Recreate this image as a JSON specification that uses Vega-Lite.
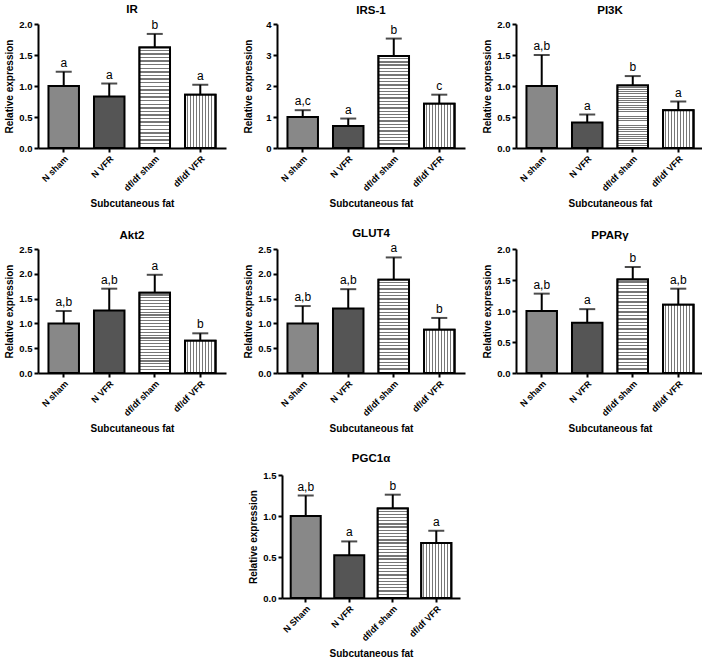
{
  "$schema": "https://vega.github.io/schema/vega-lite/v6.json",
  "padding": {"left": 4, "top": 4, "right": 0, "bottom": 0},
  "data": {"values": [
    {"gene": "IR", "label": "N sham", "mean": 1.0, "upper": 1.23, "sig": "a"},
    {"gene": "IR", "label": "N VFR", "mean": 0.83, "upper": 1.04, "sig": "a"},
    {"gene": "IR", "label": "df/df sham", "mean": 1.62, "upper": 1.84, "sig": "b"},
    {"gene": "IR", "label": "df/df VFR", "mean": 0.86, "upper": 1.02, "sig": "a"},
    {"gene": "IRS-1", "label": "N sham", "mean": 1.0, "upper": 1.22, "sig": "a,c"},
    {"gene": "IRS-1", "label": "N VFR", "mean": 0.71, "upper": 0.95, "sig": "a"},
    {"gene": "IRS-1", "label": "df/df sham", "mean": 2.97, "upper": 3.53, "sig": "b"},
    {"gene": "IRS-1", "label": "df/df VFR", "mean": 1.43, "upper": 1.72, "sig": "c"},
    {"gene": "PI3K", "label": "N sham", "mean": 1.0, "upper": 1.5, "sig": "a,b"},
    {"gene": "PI3K", "label": "N VFR", "mean": 0.41, "upper": 0.54, "sig": "a"},
    {"gene": "PI3K", "label": "df/df sham", "mean": 1.01, "upper": 1.16, "sig": "b"},
    {"gene": "PI3K", "label": "df/df VFR", "mean": 0.61, "upper": 0.75, "sig": "a"},
    {"gene": "Akt2", "label": "N sham", "mean": 1.0, "upper": 1.25, "sig": "a,b"},
    {"gene": "Akt2", "label": "N VFR", "mean": 1.26, "upper": 1.70, "sig": "a,b"},
    {"gene": "Akt2", "label": "df/df sham", "mean": 1.62, "upper": 1.98, "sig": "a"},
    {"gene": "Akt2", "label": "df/df VFR", "mean": 0.65, "upper": 0.80, "sig": "b"},
    {"gene": "GLUT4", "label": "N sham", "mean": 1.0, "upper": 1.35, "sig": "a,b"},
    {"gene": "GLUT4", "label": "N VFR", "mean": 1.30, "upper": 1.69, "sig": "a,b"},
    {"gene": "GLUT4", "label": "df/df sham", "mean": 1.88, "upper": 2.33, "sig": "a"},
    {"gene": "GLUT4", "label": "df/df VFR", "mean": 0.87, "upper": 1.11, "sig": "b"},
    {"gene": "PPARg", "label": "N sham", "mean": 1.0, "upper": 1.28, "sig": "a,b"},
    {"gene": "PPARg", "label": "N VFR", "mean": 0.81, "upper": 1.03, "sig": "a"},
    {"gene": "PPARg", "label": "df/df sham", "mean": 1.51, "upper": 1.71, "sig": "b"},
    {"gene": "PPARg", "label": "df/df VFR", "mean": 1.10, "upper": 1.36, "sig": "a,b"},
    {"gene": "PGC1a", "label": "N Sham", "mean": 1.0, "upper": 1.25, "sig": "a,b"},
    {"gene": "PGC1a", "label": "N VFR", "mean": 0.52, "upper": 0.69, "sig": "a"},
    {"gene": "PGC1a", "label": "df/df sham", "mean": 1.09, "upper": 1.26, "sig": "b"},
    {"gene": "PGC1a", "label": "df/df VFR", "mean": 0.67, "upper": 0.82, "sig": "a"}
  ]},
  "spacing": 18,
  "center": true,
  "resolve": {"scale": {"x": "independent", "y": "independent"}},
  "vconcat": [
    {
      "spacing": 17,
      "resolve": {"scale": {"x": "independent", "y": "independent"}},
      "hconcat": [
        {
          "title": "IR", "width": 188, "height": 124,
          "transform": [{"filter": "datum.gene === 'IR'"}],
          "encoding": {
            "x": {"field": "label", "type": "nominal", "title": "Subcutaneous fat", "scale": {"domain": ["N sham", "N VFR", "df/df sham", "df/df VFR"], "paddingInner": 0.33, "paddingOuter": 0.23}},
            "y": {"field": "mean", "type": "quantitative", "title": "Relative expression", "scale": {"domain": [0, 2], "nice": false}, "axis": {"values": [0, 0.5, 1, 1.5, 2], "format": ".1f"}}
          },
          "layer": [
            {"mark": {"type": "bar", "stroke": "black", "strokeWidth": 2}, "encoding": {"fill": {"condition": {"test": "datum.label === 'N VFR'", "value": "#555"}, "value": "#888"}}},
            {"transform": [{"filter": "datum.label === 'df/df sham'"}], "mark": {"type": "bar", "style": "hstripe"}},
            {"transform": [{"filter": "datum.label === 'df/df VFR'"}], "mark": {"type": "bar", "style": "vstripe"}},
            {"mark": {"type": "rule", "color": "black", "strokeWidth": 2}, "encoding": {"y2": {"field": "upper"}}},
            {"mark": {"type": "tick", "color": "black", "thickness": 2, "size": 16}, "encoding": {"y": {"field": "upper", "type": "quantitative"}}},
            {"mark": {"type": "text", "color": "black", "baseline": "alphabetic", "dy": -5, "fontSize": 12}, "encoding": {"y": {"field": "upper", "type": "quantitative"}, "text": {"field": "sig"}}}
          ]
        },
        {
          "title": "IRS-1", "width": 188, "height": 124,
          "transform": [{"filter": "datum.gene === 'IRS-1'"}],
          "encoding": {
            "x": {"field": "label", "type": "nominal", "title": "Subcutaneous fat", "scale": {"domain": ["N sham", "N VFR", "df/df sham", "df/df VFR"], "paddingInner": 0.33, "paddingOuter": 0.23}},
            "y": {"field": "mean", "type": "quantitative", "title": "Relative expression", "scale": {"domain": [0, 4], "nice": false}, "axis": {"values": [0, 1, 2, 3, 4], "format": "d"}}
          },
          "layer": [
            {"mark": {"type": "bar", "stroke": "black", "strokeWidth": 2}, "encoding": {"fill": {"condition": {"test": "datum.label === 'N VFR'", "value": "#555"}, "value": "#888"}}},
            {"transform": [{"filter": "datum.label === 'df/df sham'"}], "mark": {"type": "bar", "style": "hstripe"}},
            {"transform": [{"filter": "datum.label === 'df/df VFR'"}], "mark": {"type": "bar", "style": "vstripe"}},
            {"mark": {"type": "rule", "color": "black", "strokeWidth": 2}, "encoding": {"y2": {"field": "upper"}}},
            {"mark": {"type": "tick", "color": "black", "thickness": 2, "size": 16}, "encoding": {"y": {"field": "upper", "type": "quantitative"}}},
            {"mark": {"type": "text", "color": "black", "baseline": "alphabetic", "dy": -5, "fontSize": 12}, "encoding": {"y": {"field": "upper", "type": "quantitative"}, "text": {"field": "sig"}}}
          ]
        },
        {
          "title": "PI3K", "width": 188, "height": 124,
          "transform": [{"filter": "datum.gene === 'PI3K'"}],
          "encoding": {
            "x": {"field": "label", "type": "nominal", "title": "Subcutaneous fat", "scale": {"domain": ["N sham", "N VFR", "df/df sham", "df/df VFR"], "paddingInner": 0.33, "paddingOuter": 0.23}},
            "y": {"field": "mean", "type": "quantitative", "title": "Relative expression", "scale": {"domain": [0, 2], "nice": false}, "axis": {"values": [0, 0.5, 1, 1.5, 2], "format": ".1f"}}
          },
          "layer": [
            {"mark": {"type": "bar", "stroke": "black", "strokeWidth": 2}, "encoding": {"fill": {"condition": {"test": "datum.label === 'N VFR'", "value": "#555"}, "value": "#888"}}},
            {"transform": [{"filter": "datum.label === 'df/df sham'"}], "mark": {"type": "bar", "style": "hstripe"}},
            {"transform": [{"filter": "datum.label === 'df/df VFR'"}], "mark": {"type": "bar", "style": "vstripe"}},
            {"mark": {"type": "rule", "color": "black", "strokeWidth": 2}, "encoding": {"y2": {"field": "upper"}}},
            {"mark": {"type": "tick", "color": "black", "thickness": 2, "size": 16}, "encoding": {"y": {"field": "upper", "type": "quantitative"}}},
            {"mark": {"type": "text", "color": "black", "baseline": "alphabetic", "dy": -5, "fontSize": 12}, "encoding": {"y": {"field": "upper", "type": "quantitative"}, "text": {"field": "sig"}}}
          ]
        }
      ]
    },
    {
      "spacing": 17,
      "resolve": {"scale": {"x": "independent", "y": "independent"}},
      "hconcat": [
        {
          "title": "Akt2", "width": 188, "height": 124,
          "transform": [{"filter": "datum.gene === 'Akt2'"}],
          "encoding": {
            "x": {"field": "label", "type": "nominal", "title": "Subcutaneous fat", "scale": {"domain": ["N sham", "N VFR", "df/df sham", "df/df VFR"], "paddingInner": 0.33, "paddingOuter": 0.23}},
            "y": {"field": "mean", "type": "quantitative", "title": "Relative expression", "scale": {"domain": [0, 2.5], "nice": false}, "axis": {"values": [0, 0.5, 1, 1.5, 2, 2.5], "format": ".1f"}}
          },
          "layer": [
            {"mark": {"type": "bar", "stroke": "black", "strokeWidth": 2}, "encoding": {"fill": {"condition": {"test": "datum.label === 'N VFR'", "value": "#555"}, "value": "#888"}}},
            {"transform": [{"filter": "datum.label === 'df/df sham'"}], "mark": {"type": "bar", "style": "hstripe"}},
            {"transform": [{"filter": "datum.label === 'df/df VFR'"}], "mark": {"type": "bar", "style": "vstripe"}},
            {"mark": {"type": "rule", "color": "black", "strokeWidth": 2}, "encoding": {"y2": {"field": "upper"}}},
            {"mark": {"type": "tick", "color": "black", "thickness": 2, "size": 16}, "encoding": {"y": {"field": "upper", "type": "quantitative"}}},
            {"mark": {"type": "text", "color": "black", "baseline": "alphabetic", "dy": -5, "fontSize": 12}, "encoding": {"y": {"field": "upper", "type": "quantitative"}, "text": {"field": "sig"}}}
          ]
        },
        {
          "title": "GLUT4", "width": 188, "height": 124,
          "transform": [{"filter": "datum.gene === 'GLUT4'"}],
          "encoding": {
            "x": {"field": "label", "type": "nominal", "title": "Subcutaneous fat", "scale": {"domain": ["N sham", "N VFR", "df/df sham", "df/df VFR"], "paddingInner": 0.33, "paddingOuter": 0.23}},
            "y": {"field": "mean", "type": "quantitative", "title": "Relative expression", "scale": {"domain": [0, 2.5], "nice": false}, "axis": {"values": [0, 0.5, 1, 1.5, 2, 2.5], "format": ".1f"}}
          },
          "layer": [
            {"mark": {"type": "bar", "stroke": "black", "strokeWidth": 2}, "encoding": {"fill": {"condition": {"test": "datum.label === 'N VFR'", "value": "#555"}, "value": "#888"}}},
            {"transform": [{"filter": "datum.label === 'df/df sham'"}], "mark": {"type": "bar", "style": "hstripe"}},
            {"transform": [{"filter": "datum.label === 'df/df VFR'"}], "mark": {"type": "bar", "style": "vstripe"}},
            {"mark": {"type": "rule", "color": "black", "strokeWidth": 2}, "encoding": {"y2": {"field": "upper"}}},
            {"mark": {"type": "tick", "color": "black", "thickness": 2, "size": 16}, "encoding": {"y": {"field": "upper", "type": "quantitative"}}},
            {"mark": {"type": "text", "color": "black", "baseline": "alphabetic", "dy": -5, "fontSize": 12}, "encoding": {"y": {"field": "upper", "type": "quantitative"}, "text": {"field": "sig"}}}
          ]
        },
        {
          "title": "PPARγ", "width": 188, "height": 124,
          "transform": [{"filter": "datum.gene === 'PPARg'"}],
          "encoding": {
            "x": {"field": "label", "type": "nominal", "title": "Subcutaneous fat", "scale": {"domain": ["N sham", "N VFR", "df/df sham", "df/df VFR"], "paddingInner": 0.33, "paddingOuter": 0.23}},
            "y": {"field": "mean", "type": "quantitative", "title": "Relative expression", "scale": {"domain": [0, 2], "nice": false}, "axis": {"values": [0, 0.5, 1, 1.5, 2], "format": ".1f"}}
          },
          "layer": [
            {"mark": {"type": "bar", "stroke": "black", "strokeWidth": 2}, "encoding": {"fill": {"condition": {"test": "datum.label === 'N VFR'", "value": "#555"}, "value": "#888"}}},
            {"transform": [{"filter": "datum.label === 'df/df sham'"}], "mark": {"type": "bar", "style": "hstripe"}},
            {"transform": [{"filter": "datum.label === 'df/df VFR'"}], "mark": {"type": "bar", "style": "vstripe"}},
            {"mark": {"type": "rule", "color": "black", "strokeWidth": 2}, "encoding": {"y2": {"field": "upper"}}},
            {"mark": {"type": "tick", "color": "black", "thickness": 2, "size": 16}, "encoding": {"y": {"field": "upper", "type": "quantitative"}}},
            {"mark": {"type": "text", "color": "black", "baseline": "alphabetic", "dy": -5, "fontSize": 12}, "encoding": {"y": {"field": "upper", "type": "quantitative"}, "text": {"field": "sig"}}}
          ]
        }
      ]
    },
    {
      "resolve": {"scale": {"x": "independent", "y": "independent"}},
      "hconcat": [
        {
          "title": {"text": "PGC1α", "offset": 6}, "width": 178, "height": 123,
          "transform": [{"filter": "datum.gene === 'PGC1a'"}],
          "encoding": {
            "x": {"field": "label", "type": "nominal", "title": "Subcutaneous fat", "scale": {"domain": ["N Sham", "N VFR", "df/df sham", "df/df VFR"], "paddingInner": 0.31, "paddingOuter": 0.2}},
            "y": {"field": "mean", "type": "quantitative", "title": "Relative expression", "scale": {"domain": [0, 1.5], "nice": false}, "axis": {"values": [0, 0.5, 1, 1.5], "format": ".1f"}}
          },
          "layer": [
            {"mark": {"type": "bar", "stroke": "black", "strokeWidth": 2}, "encoding": {"fill": {"condition": {"test": "datum.label === 'N VFR'", "value": "#555"}, "value": "#888"}}},
            {"transform": [{"filter": "datum.label === 'df/df sham'"}], "mark": {"type": "bar", "style": "hstripe"}},
            {"transform": [{"filter": "datum.label === 'df/df VFR'"}], "mark": {"type": "bar", "style": "vstripe"}},
            {"mark": {"type": "rule", "color": "black", "strokeWidth": 2}, "encoding": {"y2": {"field": "upper"}}},
            {"mark": {"type": "tick", "color": "black", "thickness": 2, "size": 16}, "encoding": {"y": {"field": "upper", "type": "quantitative"}}},
            {"mark": {"type": "text", "color": "black", "baseline": "alphabetic", "dy": -5, "fontSize": 12}, "encoding": {"y": {"field": "upper", "type": "quantitative"}, "text": {"field": "sig"}}}
          ]
        }
      ]
    }
  ],
  "config": {
    "font": "Liberation Sans",
    "view": {"stroke": null},
    "title": {"fontSize": 11.5, "fontWeight": "bold", "color": "black", "offset": 3},
    "axis": {"grid": false, "domainColor": "black", "domainWidth": 2, "tickColor": "black", "tickWidth": 2, "tickSize": 4, "labelColor": "black", "labelFontWeight": "bold", "labelFontSize": 9.5, "labelPadding": 2, "titleColor": "black", "titleFontWeight": "bold", "titleFontSize": 10},
    "axisX": {"labelAngle": -45, "titlePadding": 6, "labelFontSize": 9},
    "axisY": {"titlePadding": 4, "minExtent": 20},
    "style": {
      "hstripe": {"stroke": "black", "strokeWidth": 2, "color": {"gradient": "linear", "x1": 0, "y1": 0, "x2": 0, "y2": 1, "stops": [
        {"offset": 0, "color": "#fff"}, {"offset": 0.0214, "color": "#fff"}, {"offset": 0.0214, "color": "#777"}, {"offset": 0.0357, "color": "#777"},
        {"offset": 0.0357, "color": "#fff"}, {"offset": 0.0571, "color": "#fff"}, {"offset": 0.0571, "color": "#777"}, {"offset": 0.0714, "color": "#777"},
        {"offset": 0.0714, "color": "#fff"}, {"offset": 0.0929, "color": "#fff"}, {"offset": 0.0929, "color": "#777"}, {"offset": 0.1071, "color": "#777"},
        {"offset": 0.1071, "color": "#fff"}, {"offset": 0.1286, "color": "#fff"}, {"offset": 0.1286, "color": "#777"}, {"offset": 0.1429, "color": "#777"},
        {"offset": 0.1429, "color": "#fff"}, {"offset": 0.1643, "color": "#fff"}, {"offset": 0.1643, "color": "#777"}, {"offset": 0.1786, "color": "#777"},
        {"offset": 0.1786, "color": "#fff"}, {"offset": 0.2, "color": "#fff"}, {"offset": 0.2, "color": "#777"}, {"offset": 0.2143, "color": "#777"},
        {"offset": 0.2143, "color": "#fff"}, {"offset": 0.2357, "color": "#fff"}, {"offset": 0.2357, "color": "#777"}, {"offset": 0.25, "color": "#777"},
        {"offset": 0.25, "color": "#fff"}, {"offset": 0.2714, "color": "#fff"}, {"offset": 0.2714, "color": "#777"}, {"offset": 0.2857, "color": "#777"},
        {"offset": 0.2857, "color": "#fff"}, {"offset": 0.3071, "color": "#fff"}, {"offset": 0.3071, "color": "#777"}, {"offset": 0.3214, "color": "#777"},
        {"offset": 0.3214, "color": "#fff"}, {"offset": 0.3429, "color": "#fff"}, {"offset": 0.3429, "color": "#777"}, {"offset": 0.3571, "color": "#777"},
        {"offset": 0.3571, "color": "#fff"}, {"offset": 0.3786, "color": "#fff"}, {"offset": 0.3786, "color": "#777"}, {"offset": 0.3929, "color": "#777"},
        {"offset": 0.3929, "color": "#fff"}, {"offset": 0.4143, "color": "#fff"}, {"offset": 0.4143, "color": "#777"}, {"offset": 0.4286, "color": "#777"},
        {"offset": 0.4286, "color": "#fff"}, {"offset": 0.45, "color": "#fff"}, {"offset": 0.45, "color": "#777"}, {"offset": 0.4643, "color": "#777"},
        {"offset": 0.4643, "color": "#fff"}, {"offset": 0.4857, "color": "#fff"}, {"offset": 0.4857, "color": "#777"}, {"offset": 0.5, "color": "#777"},
        {"offset": 0.5, "color": "#fff"}, {"offset": 0.5214, "color": "#fff"}, {"offset": 0.5214, "color": "#777"}, {"offset": 0.5357, "color": "#777"},
        {"offset": 0.5357, "color": "#fff"}, {"offset": 0.5571, "color": "#fff"}, {"offset": 0.5571, "color": "#777"}, {"offset": 0.5714, "color": "#777"},
        {"offset": 0.5714, "color": "#fff"}, {"offset": 0.5929, "color": "#fff"}, {"offset": 0.5929, "color": "#777"}, {"offset": 0.6071, "color": "#777"},
        {"offset": 0.6071, "color": "#fff"}, {"offset": 0.6286, "color": "#fff"}, {"offset": 0.6286, "color": "#777"}, {"offset": 0.6429, "color": "#777"},
        {"offset": 0.6429, "color": "#fff"}, {"offset": 0.6643, "color": "#fff"}, {"offset": 0.6643, "color": "#777"}, {"offset": 0.6786, "color": "#777"},
        {"offset": 0.6786, "color": "#fff"}, {"offset": 0.7, "color": "#fff"}, {"offset": 0.7, "color": "#777"}, {"offset": 0.7143, "color": "#777"},
        {"offset": 0.7143, "color": "#fff"}, {"offset": 0.7357, "color": "#fff"}, {"offset": 0.7357, "color": "#777"}, {"offset": 0.75, "color": "#777"},
        {"offset": 0.75, "color": "#fff"}, {"offset": 0.7714, "color": "#fff"}, {"offset": 0.7714, "color": "#777"}, {"offset": 0.7857, "color": "#777"},
        {"offset": 0.7857, "color": "#fff"}, {"offset": 0.8071, "color": "#fff"}, {"offset": 0.8071, "color": "#777"}, {"offset": 0.8214, "color": "#777"},
        {"offset": 0.8214, "color": "#fff"}, {"offset": 0.8429, "color": "#fff"}, {"offset": 0.8429, "color": "#777"}, {"offset": 0.8571, "color": "#777"},
        {"offset": 0.8571, "color": "#fff"}, {"offset": 0.8786, "color": "#fff"}, {"offset": 0.8786, "color": "#777"}, {"offset": 0.8929, "color": "#777"},
        {"offset": 0.8929, "color": "#fff"}, {"offset": 0.9143, "color": "#fff"}, {"offset": 0.9143, "color": "#777"}, {"offset": 0.9286, "color": "#777"},
        {"offset": 0.9286, "color": "#fff"}, {"offset": 0.95, "color": "#fff"}, {"offset": 0.95, "color": "#777"}, {"offset": 0.9643, "color": "#777"},
        {"offset": 0.9643, "color": "#fff"}, {"offset": 0.9857, "color": "#fff"}, {"offset": 0.9857, "color": "#777"}, {"offset": 1, "color": "#777"}
      ]}},
      "vstripe": {"stroke": "black", "strokeWidth": 2, "color": {"gradient": "linear", "x1": 0, "y1": 0, "x2": 1, "y2": 0, "stops": [
        {"offset": 0, "color": "#fff"}, {"offset": 0.06, "color": "#fff"}, {"offset": 0.06, "color": "#777"}, {"offset": 0.1, "color": "#777"},
        {"offset": 0.1, "color": "#fff"}, {"offset": 0.16, "color": "#fff"}, {"offset": 0.16, "color": "#777"}, {"offset": 0.2, "color": "#777"},
        {"offset": 0.2, "color": "#fff"}, {"offset": 0.26, "color": "#fff"}, {"offset": 0.26, "color": "#777"}, {"offset": 0.3, "color": "#777"},
        {"offset": 0.3, "color": "#fff"}, {"offset": 0.36, "color": "#fff"}, {"offset": 0.36, "color": "#777"}, {"offset": 0.4, "color": "#777"},
        {"offset": 0.4, "color": "#fff"}, {"offset": 0.46, "color": "#fff"}, {"offset": 0.46, "color": "#777"}, {"offset": 0.5, "color": "#777"},
        {"offset": 0.5, "color": "#fff"}, {"offset": 0.56, "color": "#fff"}, {"offset": 0.56, "color": "#777"}, {"offset": 0.6, "color": "#777"},
        {"offset": 0.6, "color": "#fff"}, {"offset": 0.66, "color": "#fff"}, {"offset": 0.66, "color": "#777"}, {"offset": 0.7, "color": "#777"},
        {"offset": 0.7, "color": "#fff"}, {"offset": 0.76, "color": "#fff"}, {"offset": 0.76, "color": "#777"}, {"offset": 0.8, "color": "#777"},
        {"offset": 0.8, "color": "#fff"}, {"offset": 0.86, "color": "#fff"}, {"offset": 0.86, "color": "#777"}, {"offset": 0.9, "color": "#777"},
        {"offset": 0.9, "color": "#fff"}, {"offset": 0.96, "color": "#fff"}, {"offset": 0.96, "color": "#777"}, {"offset": 1, "color": "#777"}
      ]}}
    }
  }
}
